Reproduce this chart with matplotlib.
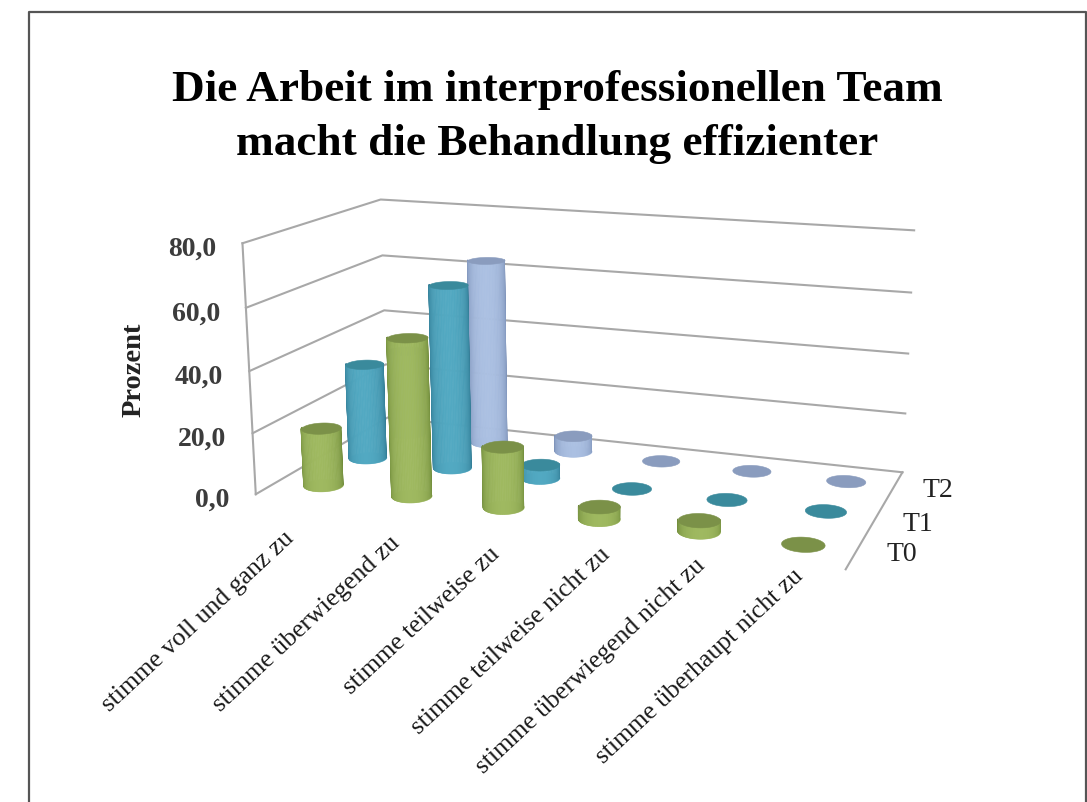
import numpy as np
import matplotlib
matplotlib.use("Agg")
import matplotlib.pyplot as plt
from mpl_toolkits.mplot3d import proj3d
from mpl_toolkits.mplot3d.art3d import Poly3DCollection

W, H = 1087, 802
categories = ["stimme voll und ganz zu", "stimme überwiegend zu", "stimme teilweise zu",
              "stimme teilweise nicht zu", "stimme überwiegend nicht zu", "stimme überhaupt nicht zu"]
series = ["T0", "T1", "T2"]
t0 = [19, 51, 19.5, 4, 3.5, 0]
t1 = [32.5, 61.5, 4.5, 0, 0, 0]
t2 = [30, 64, 5.5, 0, 0, 0]
zticks = [0, 20, 40, 60, 80]

# side middle, side edge, top of each series
light = ["#9fb960", "#52a9c2", "#abc0e2"]
dark = ["#6f8a3a", "#317a93", "#7a8fb6"]
cap = ["#7b9148", "#3a8a9c", "#8a9cbe"]
grid = "#a8a8a8"

# label offsets in pixels, the original placed them unevenly
cat_off = [(-9, -36), (7, -29), (13, -28), (25, -16), (18, -14), (9, -11)]
ser_off = [(30, -4), (26, -8), (28, -4)]

plt.rcParams["font.family"] = ["Liberation Serif", "DejaVu Serif"]
fig = plt.figure(figsize=(W/100, H/100), dpi=100)
ax = fig.add_axes([231.61/W, 1-(27.21+688.56)/H, 688.56/W, 688.56/H], projection="3d")
ax.set_xlim(0, 6, view_margin=0)
ax.set_ylim(0, 3, view_margin=0)
ax.set_zlim(0, 80, view_margin=0)
ax.view_init(14.3719, -69.8032, 0.0724)
ax.set_proj_type("persp", focal_length=0.4473)
ax.set_box_aspect((1, 0.4889, 0.4274))
ax.set_axis_off()
ax.computed_zorder = False

for z in zticks:
    ax.plot([0, 0, 6], [0, 3, 3], [z, z, z], color=grid, lw=1.5, zorder=1)
ax.plot([0, 0], [0, 0], [0, 80], color=grid, lw=1.5, zorder=1)
ax.plot([6, 6], [3, 0], [0, 0], color=grid, lw=1.5, zorder=1)

def cylinder(x0, y0, h, j, order):
    rx = 0.2
    ry = rx*(1/6)/(0.4889/3)
    t = np.linspace(0, 2*np.pi, 61)
    if h > 0:
        # only the half that faces the viewer
        a = np.deg2rad(np.linspace(-69.8-100, -69.8+100, 41))
        w = np.clip(np.cos(a - np.deg2rad(-69.8)), 0, 1)**0.8
        c0 = np.array(matplotlib.colors.to_rgb(dark[j]))
        c1 = np.array(matplotlib.colors.to_rgb(light[j]))
        col = c0 + (c1-c0)*w[:, None]
        xs = x0 + rx*np.cos(a)
        ys = y0 + ry*np.sin(a)
        polys = []
        for k in range(len(a)-1):
            polys.append([(xs[k], ys[k], 0), (xs[k+1], ys[k+1], 0), (xs[k+1], ys[k+1], h), (xs[k], ys[k], h)])
        side = Poly3DCollection(polys, facecolors=col[:-1], edgecolors=col[:-1], linewidths=0.5, zorder=order)
        side.set_zsort("min")
        ax.add_collection3d(side)
        # round off the foot
        foot = Poly3DCollection([list(zip(x0 + rx*np.cos(t), y0 + ry*np.sin(t), 0*t))], facecolor=light[j],
                                edgecolor=light[j], linewidth=0.4, zorder=order-1)
        ax.add_collection3d(foot)
    top = Poly3DCollection([list(zip(x0 + rx*np.cos(t), y0 + ry*np.sin(t), 0*t+h))], facecolor=cap[j],
                           edgecolor=cap[j], linewidth=0.4, zorder=order+1)
    ax.add_collection3d(top)

for j, vals in reversed(list(enumerate([t0, t1, t2]))):
    for i, v in enumerate(vals):
        cylinder(i+0.5, j+0.5, v, j, 10 + (2-j)*20 + i*3)

M = ax.get_proj()

def to2d(x, y, z):
    X, Y, _ = proj3d.proj_transform(x, y, z, M)
    return X, Y

for z in zticks:
    ax.annotate(("%.1f" % z).replace(".", ","), xy=to2d(0, 0, z),
                xytext=(-26, -12.5), textcoords="offset pixels", ha="right", va="baseline",
                fontsize=20, fontweight="bold", color="#3c3c3c", annotation_clip=False)

for i, c in enumerate(categories):
    ax.annotate(c, xy=to2d(i+0.5, 0, 0), xytext=cat_off[i], textcoords="offset pixels",
                ha="right", va="center", rotation=43, rotation_mode="anchor",
                fontsize=18.5, color="#1a1a1a", annotation_clip=False)

for j, s in enumerate(series):
    ax.annotate(s, xy=to2d(6, j+0.5, 0), xytext=ser_off[j], textcoords="offset pixels",
                ha="left", va="center", fontsize=20, color="#222222", annotation_clip=False)

fig.text(141/W, 1-369.5/H, "Prozent", rotation=90, ha="center", va="baseline", rotation_mode="anchor",
         fontsize=20.5, fontweight="bold", color="#222222")

fig.text(557.5/W, 1-100.5/H, "Die Arbeit im interprofessionellen Team", ha="center", va="baseline",
         fontsize=32.6, fontweight="bold", color="black")
fig.text(557.5/W, 1-155/H, "macht die Behandlung effizienter", ha="center", va="baseline",
         fontsize=32.6, fontweight="bold", color="black")

# slide frame, open at the bottom
frame = plt.Line2D([29/W, 29/W, 1085.5/W, 1085.5/W], [0, 1-11.5/H, 1-11.5/H, 0], transform=fig.transFigure,
                   color="#555555", lw=1.6)
fig.add_artist(frame)

fig.savefig("out.png", dpi=100)
